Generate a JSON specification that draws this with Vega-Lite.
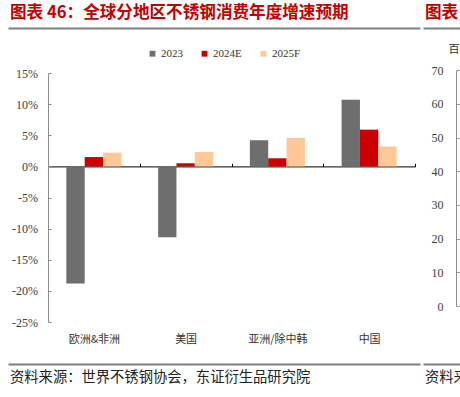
{
  "$schema": "https://vega.github.io/schema/vega-lite/v6.json",
  "padding": {"left": 8, "top": 5, "right": 0, "bottom": 0},
  "background": "white",
  "config": {
    "view": {"stroke": null},
    "axis": {"grid": false}
  },
  "columns": 2,
  "spacing": {"row": 41, "column": 3},
  "bounds": "flush",
  "align": "each",
  "resolve": {"scale": {"color": "independent"}, "legend": {"color": "independent"}},
  "concat": [
    {
      "width": 412,
      "height": 1,
      "title": {"text": "图表 46：全球分地区不锈钢消费年度增速预期", "color": "#C00000", "font": "Noto Sans CJK SC", "fontSize": 16.6, "fontWeight": "bold", "anchor": "start", "baseline": "bottom", "offset": -11, "dx": 2},
      "data": {"values": []},
      "mark": {"type": "point"},
      "encoding": {
        "x": {"field": "x", "type": "quantitative", "scale": {"domain": [0, 1]}, "axis": {"orient": "bottom", "title": null, "labels": false, "ticks": false, "domainColor": "#7F7F7F", "domainWidth": 2}}
      }
    },
    {
      "width": 37,
      "height": 1,
      "title": {"text": "图表", "color": "#C00000", "font": "Noto Sans CJK SC", "fontSize": 16.6, "fontWeight": "bold", "anchor": "start", "baseline": "bottom", "offset": -11, "dx": 2},
      "data": {"values": []},
      "mark": {"type": "point"},
      "encoding": {
        "x": {"field": "x", "type": "quantitative", "scale": {"domain": [0, 1]}, "axis": {"orient": "bottom", "title": null, "labels": false, "ticks": false, "domainColor": "#7F7F7F", "domainWidth": 2}}
      }
    },
    {
      "width": 412,
      "height": 254,
      "data": {"values": [
        {"region": "欧洲&非洲", "series": "2023", "value": -18.8},
        {"region": "欧洲&非洲", "series": "2024E", "value": 1.5},
        {"region": "欧洲&非洲", "series": "2025F", "value": 2.2},
        {"region": "美国", "series": "2023", "value": -11.4},
        {"region": "美国", "series": "2024E", "value": 0.5},
        {"region": "美国", "series": "2025F", "value": 2.3},
        {"region": "亚洲/除中韩", "series": "2023", "value": 4.2},
        {"region": "亚洲/除中韩", "series": "2024E", "value": 1.3},
        {"region": "亚洲/除中韩", "series": "2025F", "value": 4.6},
        {"region": "中国", "series": "2023", "value": 10.7},
        {"region": "中国", "series": "2024E", "value": 5.9},
        {"region": "中国", "series": "2025F", "value": 3.2}
      ]},
      "mark": {"type": "bar"},
      "encoding": {
        "x": {
          "field": "region", "type": "nominal",
          "sort": ["欧洲&非洲", "美国", "亚洲/除中韩", "中国"],
          "scale": {"range": [40, 407], "paddingInner": 0, "paddingOuter": 0},
          "axis": {"title": null, "orient": "bottom", "offset": -156.6, "tickBand": "extent", "tickSize": -3, "tickColor": "#000000", "domainColor": "#000000", "domainWidth": 1, "labelAngle": 0, "labelPadding": 170, "labelFont": "Noto Sans CJK SC", "labelFontSize": 11, "labelColor": "#333333"}
        },
        "xOffset": {"field": "series", "type": "nominal", "sort": ["2023", "2024E", "2025F"], "scale": {"paddingInner": 0, "paddingOuter": 1.07}},
        "y": {
          "field": "value", "type": "quantitative", "stack": null,
          "scale": {"domain": [-25, 15], "range": [253, 4], "nice": false, "zero": false},
          "axis": {"title": null, "orient": "left", "offset": -40, "values": [-25, -20, -15, -10, -5, 0, 5, 10, 15], "labelExpr": "datum.value + '%'", "tickSize": -3, "tickColor": "#8C8C8C", "domainColor": "#8C8C8C", "labelPadding": 13.5, "labelFont": "Liberation Serif", "labelFontSize": 12, "labelColor": "#404040"}
        },
        "color": {
          "field": "series", "type": "nominal",
          "scale": {"domain": ["2023", "2024E", "2025F"], "range": ["#6E6E6E", "#CC0000", "#FFC896"]},
          "legend": {"title": null, "orient": "none", "direction": "horizontal", "legendX": 139, "legendY": -21, "padding": 0, "symbolType": "square", "symbolSize": 34, "symbolStrokeWidth": 0, "labelOffset": 3, "columnPadding": 16, "labelFont": "Liberation Serif", "labelFontSize": 11, "labelColor": "#333333"}
        }
      }
    },
    {
      "width": 37,
      "height": 254,
      "data": {"values": []},
      "mark": {"type": "point"},
      "encoding": {
        "y": {
          "field": "value", "type": "quantitative",
          "scale": {"domain": [0, 70], "range": [237, 1.3], "nice": false},
          "axis": {"title": "百", "titleAngle": 0, "titleAlign": "left", "titleBaseline": "middle", "titleX": -8, "titleY": -19.5, "titleFont": "Noto Sans CJK SC", "titleFontSize": 11, "titleFontWeight": "normal", "titleColor": "#333333", "orient": "left", "offset": -33, "values": [0, 10, 20, 30, 40, 50, 60, 70], "tickSize": -3, "tickColor": "#8C8C8C", "domainColor": "#8C8C8C", "labelPadding": 16, "labelFont": "Liberation Serif", "labelFontSize": 12, "labelColor": "#404040"}
        }
      }
    },
    {
      "width": 412,
      "height": 1,
      "title": {"text": "资料来源：世界不锈钢协会，东证衍生品研究院", "orient": "bottom", "color": "#222222", "font": "Noto Sans CJK SC", "fontSize": 14.3, "fontWeight": "normal", "anchor": "start", "baseline": "top", "offset": 6, "dx": 2},
      "data": {"values": []},
      "mark": {"type": "point"},
      "encoding": {
        "x": {"field": "x", "type": "quantitative", "scale": {"domain": [0, 1]}, "axis": {"orient": "top", "title": null, "labels": false, "ticks": false, "domainColor": "#7F7F7F", "domainWidth": 2}}
      }
    },
    {
      "width": 37,
      "height": 1,
      "title": {"text": "资料来", "orient": "bottom", "color": "#222222", "font": "Noto Sans CJK SC", "fontSize": 14.3, "fontWeight": "normal", "anchor": "start", "baseline": "top", "offset": 6, "dx": 2},
      "data": {"values": []},
      "mark": {"type": "point"},
      "encoding": {
        "x": {"field": "x", "type": "quantitative", "scale": {"domain": [0, 1]}, "axis": {"orient": "top", "title": null, "labels": false, "ticks": false, "domainColor": "#7F7F7F", "domainWidth": 2}}
      }
    }
  ]
}
